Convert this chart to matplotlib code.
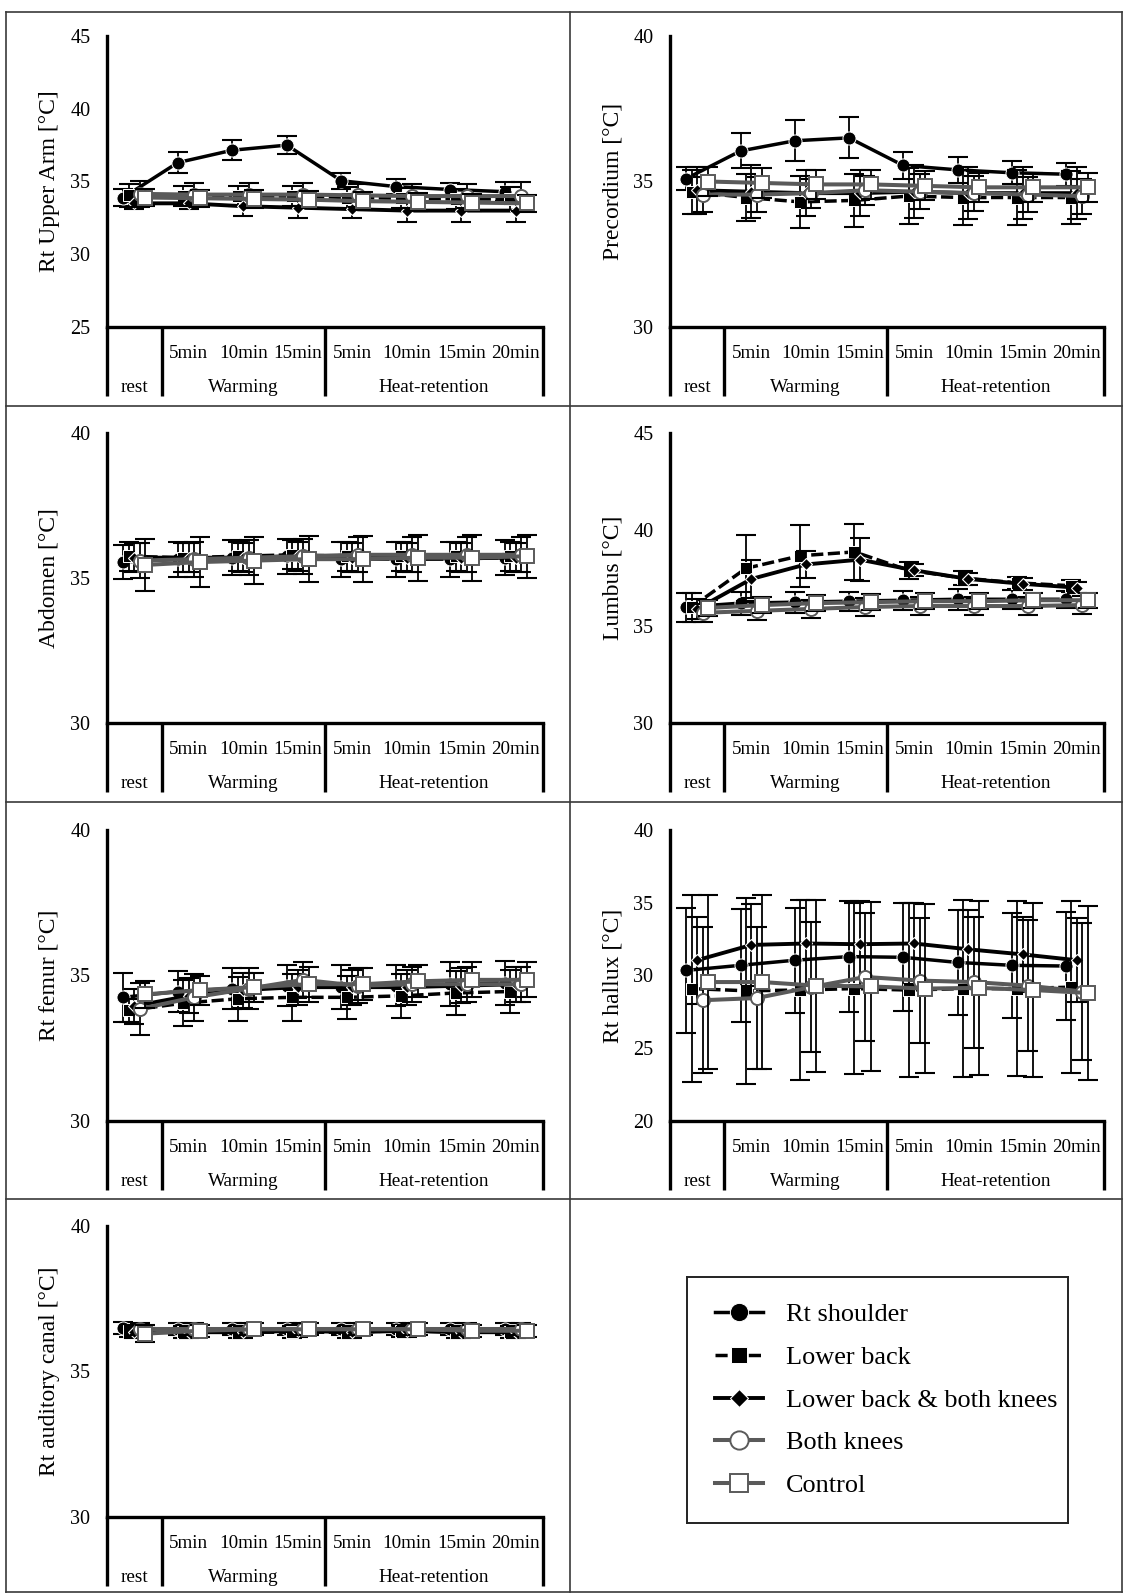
import matplotlib
matplotlib.use('Agg')
import matplotlib.pyplot as plt
from matplotlib.lines import Line2D

plt.rcParams['font.family'] = ['Liberation Serif', 'DejaVu Serif']

# ---------------- data ----------------
series_names = ['Rt shoulder', 'Lower back', 'Lower back & both knees', 'Both knees', 'Control']
time_labels = ['', '5min', '10min', '15min', '5min', '10min', '15min', '20min']
phase_labels = ['rest', 'Warming', 'Heat-retention']

arm_mean = [[33.9, 36.3, 37.15, 37.5, 35.05, 34.65, 34.45, 34.3],
            [34.05, 34.0, 34.0, 34.0, 33.9, 33.85, 33.8, 33.8],
            [33.5, 33.5, 33.3, 33.2, 33.1, 33.0, 33.0, 33.0],
            [34.15, 34.1, 34.1, 34.1, 34.05, 34.0, 34.0, 34.0],
            [33.9, 33.85, 33.8, 33.75, 33.65, 33.6, 33.55, 33.5]]
arm_sd = [[0.6, 0.7, 0.7, 0.6, 0.55, 0.5, 0.45, 0.65],
          [0.8, 0.7, 0.7, 0.7, 0.7, 0.7, 0.7, 0.8],
          [0.4, 0.4, 0.7, 0.7, 0.6, 0.75, 0.75, 0.75],
          [0.9, 0.8, 0.8, 0.8, 0.8, 0.8, 0.8, 1.0],
          [0.6, 0.6, 0.6, 0.6, 0.6, 0.6, 0.6, 0.6]]

pre_mean = [[35.1, 36.05, 36.4, 36.5, 35.55, 35.4, 35.3, 35.25],
            [34.65, 34.45, 34.3, 34.35, 34.5, 34.45, 34.45, 34.45],
            [34.7, 34.65, 34.6, 34.6, 34.65, 34.6, 34.6, 34.6],
            [34.55, 34.55, 34.6, 34.7, 34.65, 34.6, 34.55, 34.5],
            [35.0, 34.95, 34.9, 34.9, 34.85, 34.8, 34.8, 34.8]]
pre_sd = [[0.4, 0.6, 0.7, 0.7, 0.45, 0.45, 0.4, 0.4],
          [0.75, 0.8, 0.9, 0.9, 0.95, 0.95, 0.95, 0.9],
          [0.8, 0.9, 0.8, 0.8, 0.9, 0.9, 0.9, 0.9],
          [0.6, 0.6, 0.5, 0.5, 0.6, 0.6, 0.6, 0.6],
          [0.5, 0.5, 0.5, 0.5, 0.5, 0.5, 0.5, 0.5]]

abd_mean = [[35.55, 35.65, 35.7, 35.75, 35.65, 35.65, 35.65, 35.7],
            [35.75, 35.7, 35.75, 35.8, 35.75, 35.75, 35.75, 35.75],
            [35.7, 35.7, 35.7, 35.75, 35.7, 35.7, 35.7, 35.7],
            [35.6, 35.65, 35.7, 35.75, 35.8, 35.8, 35.8, 35.8],
            [35.45, 35.55, 35.6, 35.65, 35.65, 35.7, 35.7, 35.75]]
abd_sd = [[0.6, 0.6, 0.6, 0.6, 0.6, 0.6, 0.6, 0.6],
          [0.5, 0.5, 0.5, 0.5, 0.5, 0.5, 0.5, 0.5],
          [0.5, 0.5, 0.5, 0.5, 0.5, 0.5, 0.5, 0.5],
          [0.6, 0.6, 0.6, 0.6, 0.6, 0.6, 0.6, 0.6],
          [0.9, 0.85, 0.8, 0.8, 0.8, 0.8, 0.8, 0.75]]

lum_mean = [[36.0, 36.2, 36.25, 36.3, 36.35, 36.4, 36.4, 36.4],
            [36.0, 38.0, 38.65, 38.85, 37.9, 37.5, 37.25, 37.1],
            [35.9, 37.45, 38.2, 38.45, 37.9, 37.45, 37.2, 37.0],
            [35.7, 35.8, 35.9, 36.0, 36.05, 36.05, 36.05, 36.1],
            [35.95, 36.1, 36.2, 36.25, 36.3, 36.3, 36.35, 36.35]]
lum_sd = [[0.75, 0.6, 0.55, 0.5, 0.5, 0.55, 0.5, 0.45],
          [0.75, 1.7, 1.6, 1.45, 0.45, 0.35, 0.3, 0.3],
          [0.5, 1.0, 0.7, 1.1, 0.3, 0.3, 0.3, 0.3],
          [0.45, 0.45, 0.45, 0.45, 0.45, 0.45, 0.45, 0.45],
          [0.4, 0.4, 0.4, 0.4, 0.4, 0.4, 0.4, 0.4]]

fem_mean = [[34.25, 34.45, 34.55, 34.65, 34.6, 34.65, 34.7, 34.75],
            [33.8, 34.05, 34.2, 34.25, 34.25, 34.3, 34.4, 34.45],
            [33.95, 34.3, 34.5, 34.6, 34.6, 34.6, 34.65, 34.7],
            [33.85, 34.25, 34.55, 34.85, 34.65, 34.7, 34.7, 34.7],
            [34.35, 34.5, 34.6, 34.7, 34.7, 34.8, 34.85, 34.85]]
fem_sd = [[0.85, 0.7, 0.7, 0.7, 0.75, 0.7, 0.75, 0.75],
          [0.4, 0.8, 0.75, 0.8, 0.75, 0.75, 0.75, 0.75],
          [0.6, 0.6, 0.6, 0.6, 0.6, 0.6, 0.6, 0.6],
          [0.9, 0.8, 0.7, 0.6, 0.6, 0.6, 0.6, 0.6],
          [0.45, 0.5, 0.5, 0.6, 0.55, 0.55, 0.6, 0.6]]

hal_mean = [[30.35, 30.7, 31.05, 31.3, 31.25, 30.9, 30.7, 30.65],
            [29.1, 28.95, 29.0, 29.1, 29.0, 29.1, 29.1, 29.2],
            [31.05, 32.1, 32.2, 32.15, 32.2, 31.8, 31.45, 31.05],
            [28.3, 28.45, 29.2, 29.9, 29.65, 29.55, 29.3, 28.9],
            [29.55, 29.55, 29.3, 29.25, 29.1, 29.15, 29.0, 28.8]]
hal_sd = [[4.3, 3.9, 3.6, 3.8, 3.7, 3.6, 3.6, 3.7],
          [6.4, 6.4, 6.2, 5.9, 6.0, 6.1, 6.0, 5.9],
          [3.0, 2.8, 3.0, 3.0, 2.8, 2.7, 2.6, 2.9],
          [5.0, 4.9, 4.45, 4.4, 4.3, 4.5, 4.5, 4.7],
          [6.0, 6.0, 5.9, 5.8, 5.8, 6.0, 6.0, 6.0]]

aud_mean = [[36.5, 36.45, 36.45, 36.45, 36.45, 36.45, 36.45, 36.45],
            [36.4, 36.35, 36.35, 36.35, 36.35, 36.4, 36.35, 36.35],
            [36.35, 36.35, 36.35, 36.4, 36.35, 36.4, 36.35, 36.35],
            [36.45, 36.45, 36.45, 36.45, 36.45, 36.45, 36.45, 36.45],
            [36.3, 36.4, 36.45, 36.45, 36.45, 36.45, 36.4, 36.4]]
aud_sd = [[0.2, 0.2, 0.2, 0.2, 0.2, 0.2, 0.2, 0.2],
          [0.2, 0.2, 0.2, 0.2, 0.2, 0.2, 0.2, 0.2],
          [0.2, 0.2, 0.2, 0.2, 0.2, 0.2, 0.2, 0.2],
          [0.2, 0.2, 0.2, 0.2, 0.2, 0.2, 0.2, 0.2],
          [0.3, 0.2, 0.2, 0.2, 0.2, 0.2, 0.2, 0.2]]

panel_ylabels = ['Rt Upper Arm [°C]', 'Precordium [°C]', 'Abdomen [°C]', 'Lumbus [°C]',
                 'Rt femur [°C]', 'Rt hallux [°C]', 'Rt auditory canal [°C]']
panel_means = [arm_mean, pre_mean, abd_mean, lum_mean, fem_mean, hal_mean, aud_mean]
panel_sds = [arm_sd, pre_sd, abd_sd, lum_sd, fem_sd, hal_sd, aud_sd]
panel_ylims = [(25, 45), (30, 40), (30, 40), (30, 45), (30, 40), (20, 40), (30, 40)]

# ---------------- figure ----------------
W, H = 1124, 1593
fig = plt.figure(figsize=(W / 100, H / 100), dpi=100)

GRAY = '#5a5a5a'
styles = [
    dict(color='black', ls='-', marker='o', ms=9.4, mfc='black', mec='white', mew=0.7, lw=2.5),
    dict(color='black', ls=(0, (3.5, 1.3)), marker='s', ms=8.0, mfc='black', mec='white', mew=0.7, lw=2.5),
    dict(color='black', ls='-', marker='D', ms=6.4, mfc='black', mec='white', mew=0.8, lw=2.8),
    dict(color=GRAY, ls='-', marker='o', ms=9.4, mfc='white', mec=GRAY, mew=1.4, lw=2.9),
    dict(color=GRAY, ls='-', marker='s', ms=9.4, mfc='white', mec=GRAY, mew=1.4, lw=2.9),
]
offsets = [-0.2, -0.1, 0.0, 0.1, 0.2]

col_x = [(107, 543), (670, 1104)]
row_y = [(36, 327), (433, 723), (830, 1121), (1226, 1517)]


def px_axes(x0, y0, x1, y1):
    return fig.add_axes([x0 / W, 1 - y1 / H, (x1 - x0) / W, (y1 - y0) / H])


handles = []
for i in range(7):
    r, c = divmod(i, 2)
    x0, x1 = col_x[c]
    y0, y1 = row_y[r]
    ax = px_axes(x0, y0, x1, y1)
    ah = y1 - y0
    lo, hi = panel_ylims[i]
    ax.set_xlim(0, 8)
    ax.set_ylim(lo, hi)
    ax.set_yticks(list(range(lo, hi + 1, 5)))
    ax.set_xticks([])
    ax.tick_params(axis='y', length=0, labelsize=14.5, pad=12)
    for s in ['top', 'right']:
        ax.spines[s].set_visible(False)
    for s in ['left', 'bottom']:
        ax.spines[s].set_linewidth(2.4)
    ax.set_ylabel(panel_ylabels[i], fontsize=17)
    ax.yaxis.set_label_coords(-47 / (x1 - x0), 0.5)

    xs = [k + 0.5 for k in range(8)]
    for j in range(5):
        xj = [x + offsets[j] for x in xs]
        st = styles[j]
        ax.errorbar(xj, panel_means[i][j], yerr=panel_sds[i][j], fmt='none',
                    ecolor='black', elinewidth=1.3, capsize=7, capthick=1.5,
                    zorder=2 + 2 * j, clip_on=False)
        ln, = ax.plot(xj, panel_means[i][j], zorder=3 + 2 * j, clip_on=False,
                      label=series_names[j], **st)
        if i == 0:
            handles.append(ln)

    # category dividers below axis
    depth = 69 / ah
    for xd in [0, 1, 4, 8]:
        ax.plot([xd, xd], [0, -depth], transform=ax.get_xaxis_transform(),
                color='black', lw=2.4, clip_on=False, solid_capstyle='butt')
    for k in range(1, 8):
        ax.annotate(time_labels[k], xy=(xs[k], 0), xycoords=('data', 'axes fraction'),
                    xytext=(0, -26 * 0.72), textcoords='offset points',
                    ha='center', va='center', fontsize=13.8)
    for lbl, xc in zip(phase_labels, [0.5, 2.5, 6.0]):
        ax.annotate(lbl, xy=(xc, 0), xycoords=('data', 'axes fraction'),
                    xytext=(0, -60 * 0.72), textcoords='offset points',
                    ha='center', va='center', fontsize=13.8)

# ---------------- legend ----------------
lax = px_axes(687, 1277, 1068, 1523)
lax.set_xticks([])
lax.set_yticks([])
for s in lax.spines.values():
    s.set_linewidth(1.4)
    s.set_color('#222222')
lax.legend(handles=handles, loc='center left', bbox_to_anchor=(0.045, 0.5),
           frameon=False, fontsize=18.9, handlelength=1.85, handletextpad=0.87,
           labelspacing=0.74, borderaxespad=0, markerscale=1.4)

# ---------------- panel borders ----------------
bc = '#3a3a3a'
for yb in [12, 406, 802, 1199, 1592]:
    fig.add_artist(Line2D([6 / W, 1122 / W], [1 - yb / H, 1 - yb / H], color=bc, lw=1.2))
for xb in [6, 570, 1122]:
    fig.add_artist(Line2D([xb / W, xb / W], [1 - 12 / H, 1 - 1592 / H], color=bc, lw=1.2))

fig.savefig('out.png', dpi=100, facecolor='white')
